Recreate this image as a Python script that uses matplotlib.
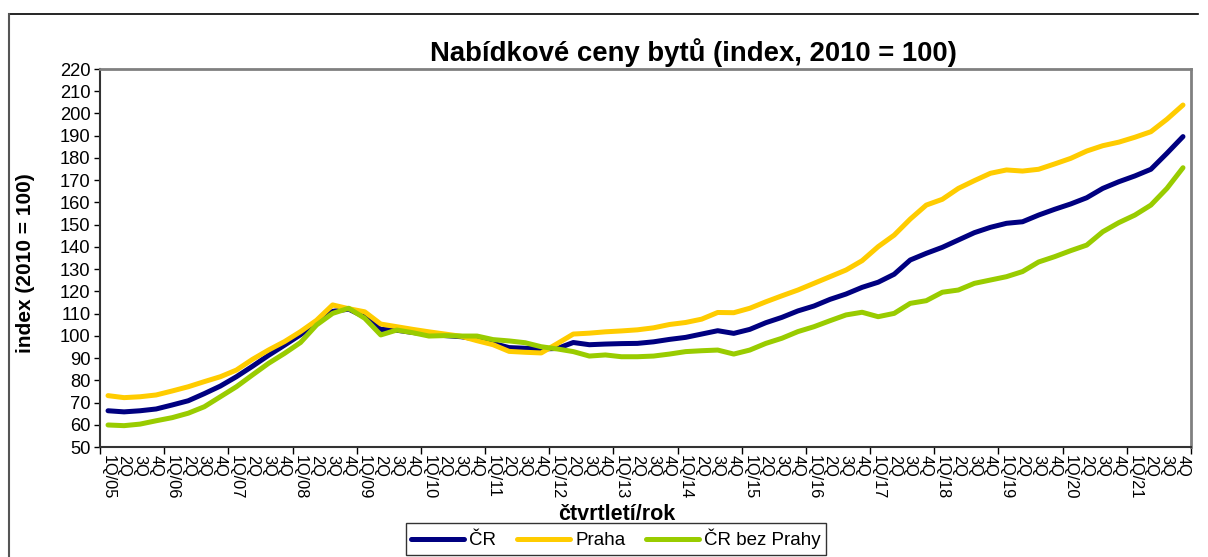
import matplotlib
matplotlib.use("Agg")
import matplotlib.pyplot as plt
from matplotlib.lines import Line2D
import numpy as np

plt.rcParams['font.family'] = ['Liberation Sans', 'DejaVu Sans']

years = [f"{y:02d}" for y in range(5, 22)]
quarters = ["1Q", "2Q", "3Q", "4Q"]
tick_labels = []
for y in years:
    for q in quarters:
        tick_labels.append(f"{q}/{y}" if q == "1Q" else q)

cr = [66.3, 65.8, 66.3, 67.1,
      68.9, 70.8, 74.0, 77.4,
      81.6, 86.3, 91.2, 95.8,
      100.5, 106.0, 111.0, 112.0,
      108.5, 102.9, 102.5, 101.5,
      100.6, 100.1, 99.6, 98.5,
      96.6, 94.7, 94.4, 94.1,
      94.3, 97.0, 96.0, 96.3,
      96.5, 96.6, 97.3, 98.4,
      99.3, 100.8, 102.3, 101.1,
      102.9, 105.9, 108.3, 111.2,
      113.4, 116.4, 118.8, 121.8,
      124.1, 127.7, 134.1, 137.1,
      139.8, 143.1, 146.4, 148.8,
      150.6, 151.3, 154.3, 156.9,
      159.3, 162.1, 166.3, 169.3,
      171.9, 174.9, 182.1, 189.6]

praha = [73.1, 72.2, 72.6, 73.4,
         75.2, 77.1, 79.4, 81.6,
         84.6, 89.4, 93.6, 97.4,
         101.9, 107.0, 113.9, 112.2,
         110.8, 105.3, 104.1, 102.9,
         101.8, 100.8, 99.8, 97.8,
         96.0, 93.0, 92.6, 92.3,
         96.5, 100.8, 101.2, 101.8,
         102.2, 102.7, 103.6, 105.1,
         106.0, 107.5, 110.5, 110.4,
         112.4, 115.3, 118.0, 120.6,
         123.6, 126.6, 129.6, 133.8,
         140.1, 145.3, 152.5, 158.8,
         161.4, 166.3, 169.8, 173.1,
         174.6, 174.1, 174.9, 177.3,
         179.8, 183.1, 185.5, 187.1,
         189.3, 191.8, 197.4, 203.8]

cr_bez_prahy = [59.9, 59.6, 60.3, 61.8,
                63.2, 65.2, 68.1, 72.6,
                77.1, 82.4, 87.6, 92.1,
                97.0, 104.9, 110.1, 112.4,
                107.9, 100.4, 102.6, 101.4,
                99.9, 100.1, 99.9, 99.9,
                98.3, 97.7, 96.9, 95.1,
                94.1, 92.9, 90.9, 91.4,
                90.6, 90.6, 90.9, 91.8,
                92.9, 93.3, 93.6, 91.8,
                93.6, 96.6, 98.9, 101.9,
                104.1, 106.8, 109.4, 110.6,
                108.6, 110.1, 114.6, 115.8,
                119.6, 120.6, 123.6, 125.1,
                126.6, 128.9, 133.2, 135.6,
                138.3, 140.8, 146.8, 150.9,
                154.3, 158.8, 166.3, 175.6]

series_names = ["ČR", "Praha", "ČR bez Prahy"]
colors = ["#000080", "#FFCC00", "#99CC00"]

W, H = 1208, 557
fig = plt.figure(figsize=(W / 100, H / 100), dpi=100)
ax = fig.add_axes([100 / W, 1 - 447 / H, (1191 - 100) / W, (447 - 69) / H])

x = np.arange(len(tick_labels))
for i, (vals, name, c) in enumerate(zip([cr, praha, cr_bez_prahy], series_names, colors)):
    ax.plot(x, vals, color=c, lw=3.6, label=name, zorder=3 + i,
            solid_capstyle='round', solid_joinstyle='round')

ax.set_xlim(-0.5, len(tick_labels) - 0.5)
ax.set_ylim(50, 220)
ax.set_yticks(np.arange(50, 221, 10))
ax.tick_params(axis='y', labelsize=13.2, length=4, width=1, direction='out', pad=3, colors='black')

# category labels (no tick marks), boundaries as minor ticks every 4 quarters
ax.set_xticks(x)
ax.set_xticklabels(tick_labels, rotation=-90, fontsize=11.8, va='top', ha='center')
ax.tick_params(axis='x', which='major', length=0, pad=6)
ax.set_xticks(np.arange(-0.5, len(tick_labels), 4), minor=True)
ax.tick_params(axis='x', which='minor', length=5, width=1, direction='out')

for s in ['top', 'right']:
    ax.spines[s].set_color('#808080')
    ax.spines[s].set_linewidth(2)
for s in ['left', 'bottom']:
    ax.spines[s].set_color('#333333')
    ax.spines[s].set_linewidth(1.5)

fig.text(26 / W, 1 - 263 / H, "index (2010 = 100)", fontsize=15, fontweight='bold',
         rotation=90, ha='center', va='center')
fig.text(617 / W, 1 - 515 / H, "čtvrtletí/rok", fontsize=15.5, fontweight='bold',
         ha='center', va='center')
fig.text(693 / W, 1 - 61 / H, "Nabídkové ceny bytů (index, 2010 = 100)", fontsize=19.8,
         fontweight='bold', ha='center', va='baseline')

leg = fig.legend(loc='upper center', bbox_to_anchor=(616 / W, 1 - 523 / H), ncol=3,
                 fontsize=13.5, frameon=True, fancybox=False, edgecolor='black',
                 handlelength=2.8, handletextpad=0.3, columnspacing=1.1,
                 borderpad=0.3, borderaxespad=0)
leg.get_frame().set_linewidth(1)

# outer chart border
fig.add_artist(Line2D([9 / W, 1198 / W], [1 - 14 / H, 1 - 14 / H], color='black', lw=1.2,
                      transform=fig.transFigure))
fig.add_artist(Line2D([9 / W, 9 / W], [1 - 14 / H, 0], color='#555555', lw=1.5,
                      transform=fig.transFigure))

fig.savefig("out.png", dpi=100)
